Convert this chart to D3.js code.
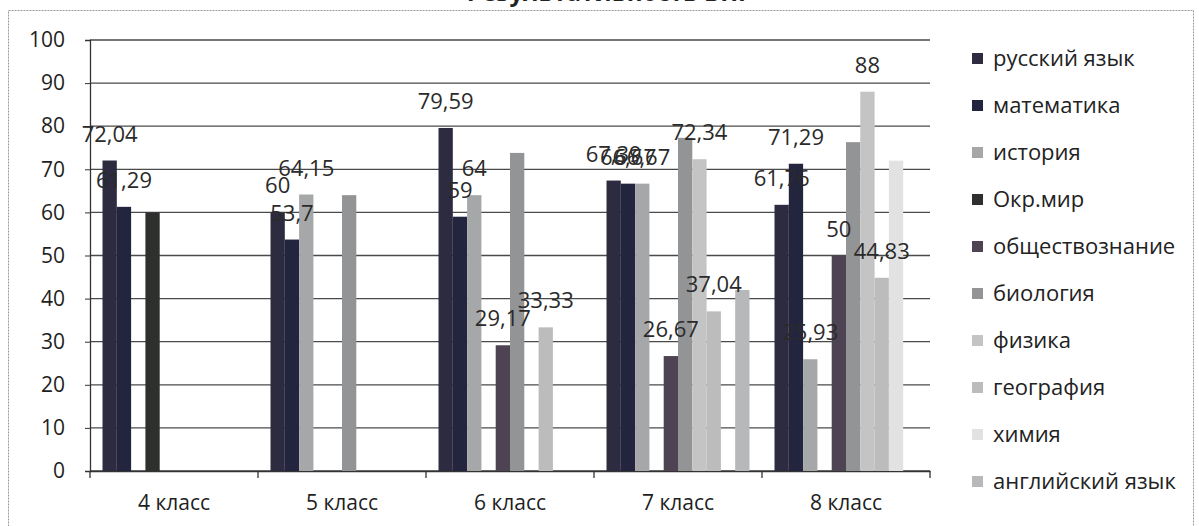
<!DOCTYPE html>
<html><head><meta charset="utf-8">
<script src="https://cdn.jsdelivr.net/npm/d3@7"></script>
<style>body{margin:0;background:#fff;}svg{display:block;font-family:"Open Sans",sans-serif;}</style>
</head><body><svg id="c" width="1199" height="526"></svg>
<script>
const title = "Результативность ВПР";
const categories = ["4 класс","5 класс","6 класс","7 класс","8 класс"];
const seriesNames = ["русский язык","математика","история","Окр.мир","обществознание","биология","физика","география","химия","английский язык"];
const seriesColors = ["#2d2b3f","#23253f","#a6a7a8","#2e302e","#4d4352","#929496","#c4c4c4","#bcbcbc","#e2e2e2","#b7b8ba"];
// values per series, in category order
const russian   = [72.04, 60, 79.59, 67.39, 61.76];
const math      = [61.29, 53.7, 59, 66.67, 71.29];
const history   = [null, 64.15, 64, 66.67, 25.93];
const okrMir    = [60, null, null, null, null];
const social    = [null, null, 29.17, 26.67, 50];
const biology   = [null, 64, 73.8, 77.3, 76.3];
const physics   = [null, null, null, 72.34, 88];
const geography = [null, null, 33.33, 37.04, 44.83];
const chemistry = [null, null, null, null, 72];
const english   = [null, null, null, 42, null];
const seriesValues = [russian, math, history, okrMir, social, biology, physics, geography, chemistry, english];
const labeledSeries = ["русский язык","математика","история","обществознание","физика","география"];
const yTicks = [0,10,20,30,40,50,60,70,80,90,100];

const svg = d3.select("#c");
// outer frame
svg.append("rect").attr("x",8.5).attr("y",10.5).attr("width",1185).attr("height",540)
  .attr("fill","none").attr("stroke","#9a9a9a").attr("stroke-width",1).attr("stroke-dasharray","2,1");
svg.append("text").attr("x",610).attr("y",1).attr("text-anchor","middle")
  .attr("font-size",24).attr("font-weight","bold").attr("fill","#222").text(title);

const x0 = d3.scaleBand().domain(categories).range([90,930]).paddingInner(0.149).paddingOuter(0.0745);
const x1 = d3.scaleBand().domain(seriesNames).range([0,x0.bandwidth()]).padding(0);
const y = d3.scaleLinear().domain([0,100]).range([471,40]);

// gridlines
svg.append("g").selectAll("line").data(yTicks).join("line")
  .attr("x1",90).attr("x2",930).attr("y1",d=>y(d)).attr("y2",d=>y(d))
  .attr("stroke","#4a4a4a").attr("stroke-width",1.3);

// y axis
const yAxis = d3.axisLeft(y).tickValues(yTicks).tickSize(5).tickPadding(20);
const ga = svg.append("g").attr("transform","translate(90,0)").call(yAxis);
ga.attr("font-family",null).attr("font-size",null);
ga.select(".domain").attr("stroke","#333").attr("stroke-width",1.3);
ga.selectAll(".tick line").attr("stroke","#333");
ga.selectAll("text").attr("font-size",21).attr("fill","#1e1e1e");

// x axis
const xAxis = d3.axisBottom(x0).tickSize(0).tickPadding(24);
const gx = svg.append("g").attr("transform","translate(0,471)").call(xAxis);
gx.attr("font-family",null).attr("font-size",null);
gx.select(".domain").attr("stroke","#333").attr("stroke-width",1.3);
gx.selectAll("text").attr("font-size",21).attr("fill","#1e1e1e");
// category boundary ticks
const bounds = categories.map(c => x0(c) - x0.step()*x0.paddingInner()/2).concat([930]);
svg.append("g").selectAll("line").data(bounds).join("line")
  .attr("x1",d=>d).attr("x2",d=>d).attr("y1",471).attr("y2",478).attr("stroke","#333").attr("stroke-width",1.3);

// bars
const flat = [];
seriesNames.forEach((s,si)=>{
  seriesValues[si].forEach((v,ci)=>{ if(v!=null) flat.push({s, si, c:categories[ci], v}); });
});
svg.append("g").selectAll("rect").data(flat).join("rect")
  .attr("x",d=>x0(d.c)+x1(d.s)).attr("width",x1.bandwidth())
  .attr("y",d=>y(d.v)).attr("height",d=>y(0)-y(d.v))
  .attr("fill",d=>seriesColors[d.si]);

// labels
const fmt = v => String(v).replace(".", ",");
svg.append("g").selectAll("text").data(flat.filter(d=>labeledSeries.includes(d.s))).join("text")
  .attr("x",d=>x0(d.c)+x1(d.s)+x1.bandwidth()/2).attr("y",d=>y(d.v)-19)
  .attr("text-anchor","middle").attr("font-size",22).attr("fill","#2a2a2a")
  .text(d=>fmt(d.v));

// legend
const lg = svg.append("g").selectAll("g").data(seriesNames).join("g")
  .attr("transform",(d,i)=>`translate(972,${58 + i*47})`);
lg.append("rect").attr("x",0).attr("y",-5).attr("width",11).attr("height",11).attr("fill",(d,i)=>seriesColors[i]);
lg.append("text").attr("x",21).attr("y",8).attr("font-size",22).attr("fill","#222").text(d=>d);
</script></body></html>
